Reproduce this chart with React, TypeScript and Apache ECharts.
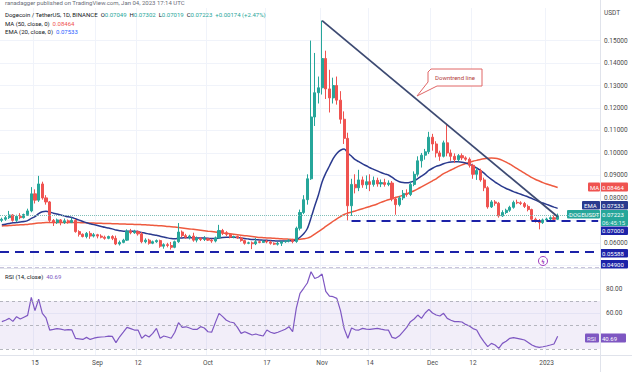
import { useEffect, useRef } from 'react';
import * as echarts from 'echarts';

const FONT = 'Roboto, "Noto Sans", sans-serif';

const firstDayUTC = Date.UTC(2022, 7, 6);
const dayCount = 163; // daily slots incl. empty future space on the right

// [open, high, low, close]
const dailyOHLC: number[][] = [
  [0.0700, 0.0712, 0.0692, 0.0705], [0.0705, 0.0720, 0.0698, 0.0712], [0.0712, 0.0742, 0.0706, 0.0724],
  [0.0724, 0.0728, 0.0694, 0.0700], [0.0700, 0.0725, 0.0693, 0.0718], [0.0718, 0.0732, 0.0705, 0.0712],
  [0.0712, 0.0730, 0.0708, 0.0726], [0.0726, 0.0752, 0.0720, 0.0742], [0.0742, 0.0848, 0.0736, 0.0818],
  [0.0818, 0.0838, 0.0775, 0.0790], [0.0790, 0.0898, 0.0782, 0.0862], [0.0862, 0.0872, 0.0792, 0.0800],
  [0.0800, 0.0812, 0.0770, 0.0782], [0.0782, 0.0786, 0.0688, 0.0700], [0.0700, 0.0706, 0.0675, 0.0690],
  [0.0690, 0.0708, 0.0684, 0.0702], [0.0702, 0.0706, 0.0678, 0.0690], [0.0690, 0.0708, 0.0684, 0.0698],
  [0.0698, 0.0704, 0.0685, 0.0690], [0.0690, 0.0712, 0.0688, 0.0700], [0.0700, 0.0706, 0.0645, 0.0650],
  [0.0650, 0.0656, 0.0628, 0.0638], [0.0638, 0.0642, 0.0624, 0.0628], [0.0628, 0.0648, 0.0620, 0.0642],
  [0.0642, 0.0652, 0.0618, 0.0630], [0.0630, 0.0644, 0.0624, 0.0636], [0.0636, 0.0640, 0.0620, 0.0630],
  [0.0630, 0.0638, 0.0620, 0.0625], [0.0625, 0.0632, 0.0614, 0.0620], [0.0620, 0.0632, 0.0616, 0.0628],
  [0.0628, 0.0634, 0.0612, 0.0620], [0.0620, 0.0632, 0.0590, 0.0595], [0.0595, 0.0610, 0.0588, 0.0602],
  [0.0602, 0.0618, 0.0598, 0.0612], [0.0612, 0.0660, 0.0608, 0.0652], [0.0652, 0.0662, 0.0638, 0.0645],
  [0.0645, 0.0658, 0.0640, 0.0650], [0.0650, 0.0655, 0.0632, 0.0640], [0.0640, 0.0648, 0.0598, 0.0605],
  [0.0605, 0.0620, 0.0598, 0.0612], [0.0612, 0.0618, 0.0592, 0.0598], [0.0598, 0.0610, 0.0594, 0.0605],
  [0.0605, 0.0615, 0.0600, 0.0610], [0.0610, 0.0614, 0.0578, 0.0585], [0.0585, 0.0598, 0.0574, 0.0592],
  [0.0592, 0.0600, 0.0580, 0.0588], [0.0588, 0.0604, 0.0570, 0.0580], [0.0580, 0.0610, 0.0576, 0.0605],
  [0.0605, 0.0688, 0.0600, 0.0648], [0.0648, 0.0655, 0.0625, 0.0632], [0.0632, 0.0640, 0.0618, 0.0625],
  [0.0625, 0.0636, 0.0615, 0.0630], [0.0630, 0.0645, 0.0605, 0.0612], [0.0612, 0.0628, 0.0602, 0.0620],
  [0.0620, 0.0625, 0.0608, 0.0615], [0.0615, 0.0630, 0.0608, 0.0618], [0.0618, 0.0622, 0.0608, 0.0612],
  [0.0612, 0.0618, 0.0600, 0.0608], [0.0608, 0.0628, 0.0602, 0.0622], [0.0622, 0.0680, 0.0620, 0.0655],
  [0.0655, 0.0662, 0.0635, 0.0645], [0.0645, 0.0652, 0.0630, 0.0638], [0.0638, 0.0642, 0.0620, 0.0625],
  [0.0625, 0.0632, 0.0620, 0.0628], [0.0628, 0.0632, 0.0618, 0.0622], [0.0622, 0.0628, 0.0605, 0.0610],
  [0.0610, 0.0614, 0.0592, 0.0598], [0.0598, 0.0605, 0.0594, 0.0600], [0.0600, 0.0606, 0.0572, 0.0596],
  [0.0596, 0.0622, 0.0590, 0.0605], [0.0605, 0.0610, 0.0598, 0.0602], [0.0602, 0.0612, 0.0600, 0.0608],
  [0.0608, 0.0614, 0.0598, 0.0604], [0.0604, 0.0610, 0.0592, 0.0598], [0.0598, 0.0602, 0.0590, 0.0594],
  [0.0594, 0.0604, 0.0588, 0.0598], [0.0598, 0.0610, 0.0586, 0.0605], [0.0605, 0.0612, 0.0600, 0.0608],
  [0.0608, 0.0616, 0.0602, 0.0612], [0.0612, 0.0618, 0.0598, 0.0606], [0.0606, 0.0672, 0.0600, 0.0665],
  [0.0665, 0.0748, 0.0655, 0.0735], [0.0735, 0.0812, 0.0728, 0.0792], [0.0792, 0.0905, 0.0770, 0.0885],
  [0.0885, 0.1500, 0.0880, 0.1160], [0.1160, 0.1445, 0.1120, 0.1268], [0.1268, 0.1340, 0.1220, 0.1290],
  [0.1290, 0.1589, 0.1260, 0.1420], [0.1420, 0.1455, 0.1240, 0.1285], [0.1285, 0.1370, 0.1180, 0.1245],
  [0.1245, 0.1335, 0.1220, 0.1300], [0.1300, 0.1340, 0.1215, 0.1235], [0.1235, 0.1275, 0.1130, 0.1150],
  [0.1150, 0.1185, 0.1040, 0.1065], [0.1065, 0.1090, 0.0700, 0.0765], [0.0765, 0.0885, 0.0720, 0.0860],
  [0.0860, 0.0905, 0.0820, 0.0845], [0.0845, 0.0925, 0.0830, 0.0880], [0.0880, 0.0895, 0.0845, 0.0858],
  [0.0858, 0.0900, 0.0840, 0.0872], [0.0872, 0.0905, 0.0830, 0.0860], [0.0860, 0.0895, 0.0850, 0.0878],
  [0.0878, 0.0890, 0.0850, 0.0862], [0.0862, 0.0882, 0.0848, 0.0868], [0.0868, 0.0885, 0.0850, 0.0860],
  [0.0860, 0.0878, 0.0852, 0.0866], [0.0866, 0.0875, 0.0785, 0.0795], [0.0795, 0.0805, 0.0725, 0.0770],
  [0.0770, 0.0808, 0.0762, 0.0800], [0.0800, 0.0835, 0.0790, 0.0820], [0.0820, 0.0838, 0.0805, 0.0815],
  [0.0815, 0.0872, 0.0808, 0.0860], [0.0860, 0.0918, 0.0852, 0.0905], [0.0905, 0.0985, 0.0895, 0.0965],
  [0.0965, 0.1000, 0.0935, 0.0990], [0.0990, 0.1018, 0.0970, 0.1005], [0.1005, 0.1094, 0.0995, 0.1070],
  [0.1070, 0.1085, 0.1010, 0.1040], [0.1040, 0.1052, 0.0980, 0.1000], [0.1000, 0.1010, 0.0965, 0.0985],
  [0.0985, 0.1055, 0.0980, 0.1045], [0.1045, 0.1125, 0.0985, 0.1000], [0.1000, 0.1015, 0.0965, 0.0985],
  [0.0985, 0.0998, 0.0955, 0.0970], [0.0970, 0.0995, 0.0962, 0.0988], [0.0988, 0.0998, 0.0968, 0.0978],
  [0.0978, 0.0985, 0.0965, 0.0972], [0.0972, 0.0980, 0.0935, 0.0945], [0.0945, 0.0952, 0.0885, 0.0905],
  [0.0905, 0.0935, 0.0880, 0.0922], [0.0922, 0.0930, 0.0872, 0.0880], [0.0880, 0.0890, 0.0830, 0.0845],
  [0.0845, 0.0852, 0.0752, 0.0760], [0.0760, 0.0790, 0.0755, 0.0782], [0.0782, 0.0790, 0.0765, 0.0776],
  [0.0776, 0.0782, 0.0712, 0.0720], [0.0720, 0.0745, 0.0715, 0.0735], [0.0735, 0.0752, 0.0728, 0.0745],
  [0.0745, 0.0765, 0.0738, 0.0758], [0.0758, 0.0788, 0.0752, 0.0780], [0.0780, 0.0792, 0.0772, 0.0778],
  [0.0778, 0.0785, 0.0768, 0.0775], [0.0775, 0.0782, 0.0755, 0.0762], [0.0762, 0.0770, 0.0740, 0.0748],
  [0.0748, 0.0752, 0.0698, 0.0705], [0.0705, 0.0712, 0.0690, 0.0698], [0.0698, 0.0706, 0.0660, 0.0690],
  [0.0690, 0.0708, 0.0684, 0.0702], [0.0702, 0.0712, 0.0695, 0.0706], [0.0706, 0.0718, 0.0698, 0.0712],
  [0.0712, 0.0722, 0.0698, 0.07049], [0.07049, 0.07302, 0.07019, 0.07223],
];

const ma50: number[] = [
  0.0675, 0.0676, 0.0677, 0.0678, 0.0679, 0.0680, 0.0681, 0.0682, 0.0684, 0.0686, 0.0688,
  0.0689, 0.0690, 0.0690, 0.0690, 0.0690, 0.0691, 0.0691, 0.0691, 0.0691, 0.0690,
  0.0690, 0.0689, 0.0689, 0.0688, 0.0688, 0.0687, 0.0687, 0.0686, 0.0686, 0.0685,
  0.0685, 0.0684, 0.0684, 0.0683, 0.0683, 0.0682, 0.0682, 0.0681, 0.0680, 0.0679,
  0.0678, 0.0677, 0.0676, 0.0675, 0.0673, 0.0672, 0.0670, 0.0668, 0.0666, 0.0664,
  0.0662, 0.0660, 0.0658, 0.0656, 0.0654, 0.0652, 0.0650, 0.0648, 0.0646, 0.0644,
  0.0642, 0.0640, 0.0638, 0.0636, 0.0634, 0.0632, 0.0630, 0.0628, 0.0626, 0.0624,
  0.0623, 0.0622, 0.0621, 0.0620, 0.0619, 0.0618, 0.0617, 0.0616, 0.0615, 0.0615,
  0.0616, 0.0618, 0.0621, 0.0628, 0.0639, 0.0650, 0.0661, 0.0673, 0.0684, 0.0696, 0.0707, 0.0717, 0.0726, 0.0733, 0.0737,
  0.0742, 0.0747, 0.0752, 0.0757, 0.0762, 0.0767, 0.0773, 0.0780, 0.0786, 0.0792, 0.0797, 0.0802, 0.0806, 0.0812, 0.0818,
  0.0825, 0.0832, 0.0840, 0.0849, 0.0858, 0.0867, 0.0876, 0.0885, 0.0897, 0.0908,
  0.0916, 0.0924, 0.0932, 0.0940, 0.0947, 0.0953, 0.0958, 0.0963, 0.0967, 0.0971,
  0.0974, 0.0976, 0.0977, 0.0976, 0.0973, 0.0967, 0.0959, 0.0950, 0.0940, 0.0930,
  0.0920, 0.0910, 0.0900, 0.0890, 0.0882, 0.0875, 0.0868, 0.0862, 0.0857, 0.0852, 0.08464,
];

const ema20: number[] = [
  0.0680, 0.0683, 0.0686, 0.0689, 0.0690, 0.0693, 0.0695, 0.0699, 0.0709, 0.0717, 0.0730,
  0.0738, 0.0741, 0.0737, 0.0732, 0.0728, 0.0724, 0.0720, 0.0716, 0.0713, 0.0707,
  0.0701, 0.0695, 0.0689, 0.0685, 0.0681, 0.0677, 0.0673, 0.0669, 0.0666, 0.0662,
  0.0657, 0.0654, 0.0652, 0.0652, 0.0651, 0.0651, 0.0650, 0.0646, 0.0643, 0.0639,
  0.0636, 0.0634, 0.0629, 0.0626, 0.0622, 0.0619, 0.0618, 0.0621, 0.0622, 0.0623,
  0.0623, 0.0622, 0.0622, 0.0621, 0.0621, 0.0620, 0.0619, 0.0619, 0.0622, 0.0624,
  0.0625, 0.0625, 0.0625, 0.0624, 0.0622, 0.0619, 0.0617, 0.0615, 0.0614, 0.0613,
  0.0612, 0.0611, 0.0610, 0.0609, 0.0608, 0.0608, 0.0608, 0.0609, 0.0609, 0.0614,
  0.0625, 0.0640, 0.0664, 0.0711, 0.0764, 0.0813, 0.0871, 0.0910, 0.0942, 0.0975,
  0.0998, 0.1012, 0.1018, 0.1000, 0.0985, 0.0970, 0.0961, 0.0951, 0.0943, 0.0934,
  0.0927, 0.0920, 0.0913, 0.0907, 0.0902, 0.0892, 0.0880, 0.0872, 0.0868, 0.0867,
  0.0870, 0.0876, 0.0886, 0.0897, 0.0908, 0.0922, 0.0932, 0.0940, 0.0945, 0.0952,
  0.0957, 0.0960, 0.0961, 0.0961, 0.0959, 0.0955, 0.0950, 0.0942, 0.0933, 0.0922,
  0.0910, 0.0895, 0.0882, 0.0870, 0.0860, 0.0850, 0.0842, 0.0835, 0.0828, 0.0822,
  0.0816, 0.0810, 0.0804, 0.0797, 0.0790, 0.0783, 0.0777, 0.0771, 0.0765, 0.0759, 0.07533,
];

const rsi14: number[] = [
  52.8, 54.0, 55.5, 53.0, 56.9, 55.0, 56.5, 58.0, 73.0, 62.0,
  71.5, 59.7, 56.0, 45.8, 46.3, 47.0, 46.5, 45.8, 46.2, 46.0,
  38.9, 38.5, 38.0, 39.7, 38.0, 39.0, 39.7, 40.0, 40.2, 40.8,
  40.5, 35.3, 40.2, 44.0, 48.0, 47.0, 45.8, 45.8, 38.9, 41.7,
  40.0, 43.0, 47.2, 39.0, 40.8, 40.0, 39.0, 44.0, 52.0, 48.0,
  48.5, 47.5, 46.3, 46.3, 48.6, 47.5, 44.4, 44.0, 52.0, 59.7,
  57.0, 54.0, 52.5, 51.9, 48.0, 43.0, 44.4, 43.0, 41.7, 42.5,
  41.5, 40.8, 45.8, 44.0, 43.0, 44.0, 45.2, 46.5, 48.6, 44.4,
  64.0, 76.4, 80.6, 85.0, 94.4, 88.8, 90.0, 92.5, 78.0, 74.0,
  73.6, 72.2, 62.0, 47.0, 38.9, 47.5, 46.0, 45.8, 47.2, 46.5,
  46.3, 46.8, 47.2, 46.5, 46.0, 45.8, 39.7, 38.9, 41.0, 44.4,
  48.0, 52.8, 55.0, 58.3, 55.5, 60.0, 63.0, 60.0, 58.3, 57.5,
  59.7, 55.5, 54.0, 52.8, 52.8, 52.5, 50.5, 49.2, 47.0, 45.8,
  40.3, 36.0, 32.0, 34.7, 33.3, 30.5, 34.7, 36.5, 38.9, 39.5,
  38.9, 38.2, 37.5, 35.5, 33.3, 32.0, 31.4, 31.9, 32.5, 33.3,
  34.2, 40.69,
];

const tickDates = ['2022-08-15', '2022-09-01', '2022-09-12', '2022-10-01', '2022-10-17', '2022-11-01', '2022-11-14', '2022-12-01', '2022-12-12', '2023-01-01'];
const tickTexts = ['15', 'Sep', '12', 'Oct', '17', 'Nov', '14', 'Dec', '12', '2023'];
const priceGridValues = [0.05, 0.06, 0.07, 0.08, 0.09, 0.1, 0.11, 0.12, 0.13, 0.14, 0.15];
const priceLabelValues = [0.06, 0.08, 0.09, 0.1, 0.11, 0.12, 0.13, 0.14, 0.15];
const rsiLabelValues = [60, 80];
const rsiBandLines = [70, 50, 30];
const supportLevel = 0.07;
const supportStart = '2022-11-09';
const lowerLevels = [0.05588, 0.049];
const trendStart: [string, number] = ['2022-11-01', 0.1589];
const trendEnd: [string, number] = ['2023-01-04', 0.0716];
const countdown = '06:45:15';

const UP = '#26a69a';
const DOWN = '#ef5350';
const NAVY = '#2a3a8e';
const LINE_BLUE = '#1c22a8';
const PURPLE = '#7e57c2';

function labelBox(x: number, y: number, w: number, h: number, fill: string, text: string) {
  return {
    type: 'group',
    children: [
      { type: 'rect', shape: { x, y, width: w, height: h, r: 1 }, style: { fill } },
      { type: 'text', x: x + 2, y: y + h / 2, style: { text, fill: '#ffffff', font: `6px ${FONT}`, verticalAlign: 'middle' } },
    ],
  };
}

export default function App() {
  const ref = useRef<HTMLDivElement>(null);
  useEffect(() => {
    if (!ref.current) return;
    const chart = echarts.init(ref.current, undefined, { renderer: 'svg' });

    const dates = Array.from({ length: dayCount }, (_, i) =>
      new Date(firstDayUTC + i * 86400000).toISOString().slice(0, 10)
    );
    const candleData = dailyOHLC.map(([o, h, l, c]) => [o, c, l, h]);
    const last = dailyOHLC[dailyOHLC.length - 1];
    const prevClose = dailyOHLC[dailyOHLC.length - 2][3];
    const chg = last[3] - prevClose;
    const pct = (chg / prevClose) * 100;
    const maLast = ma50[ma50.length - 1];
    const emaLast = ema20[ema20.length - 1];
    const rsiLast = rsi14[rsi14.length - 1];
    const isTick = (_i: number, v: string) => tickDates.includes(v);

    const axisText = { color: '#4a4a4a', fontSize: 6.5, fontFamily: FONT };
    const vSplit = { show: true, interval: isTick, lineStyle: { color: '#f0f3fa', width: 1 } };

    const option: any = {
      animation: false,
      backgroundColor: '#ffffff',
      textStyle: { fontFamily: FONT },
      grid: [
        { left: 0, right: 32, top: 8, height: 260 },
        { left: 0, right: 32, top: 268, height: 87 },
      ],
      xAxis: [
        {
          type: 'category', gridIndex: 0, data: dates, boundaryGap: true,
          axisLine: { show: false }, axisTick: { show: false, interval: isTick },
          axisLabel: { show: false, interval: isTick }, splitLine: vSplit,
        },
        {
          type: 'category', gridIndex: 1, data: dates, boundaryGap: true,
          axisLine: { show: false }, axisTick: { show: false, interval: isTick },
          axisLabel: {
            show: true, interval: isTick, margin: 4, ...axisText,
            formatter: (v: string) => tickTexts[tickDates.indexOf(v)] ?? '',
          },
          splitLine: vSplit,
        },
      ],
      yAxis: [
        {
          type: 'value', gridIndex: 0, position: 'right', min: 0.0488, max: 0.1645, scale: true,
          axisLine: { show: false }, axisTick: { show: false, customValues: priceGridValues },
          axisLabel: { customValues: priceLabelValues, margin: 4, ...axisText, formatter: (v: number) => v.toFixed(5) },
          splitLine: { show: true, lineStyle: { color: '#f0f3fa', width: 1 } },
        },
        {
          type: 'value', gridIndex: 1, position: 'right', min: 25, max: 97.5,
          axisLine: { show: false }, axisTick: { show: false, customValues: rsiLabelValues },
          axisLabel: { customValues: rsiLabelValues, margin: 6, ...axisText, formatter: (v: number) => v.toFixed(2) },
          splitLine: { show: true, lineStyle: { color: '#f0f3fa', width: 1 } },
        },
      ],
      series: [
        {
          type: 'candlestick', xAxisIndex: 0, yAxisIndex: 0, data: candleData, barWidth: '70%',
          itemStyle: { color: UP, color0: DOWN, borderColor: UP, borderColor0: DOWN, borderWidth: 1 },
          markLine: {
            silent: true, symbol: ['none', 'none'], label: { show: false }, animation: false, precision: 6,
            data: [
              { yAxis: last[3], lineStyle: { type: 'dotted', color: '#7fbfb7', width: 1 } },
              [
                { coord: [supportStart, supportLevel], lineStyle: { type: [9, 6], color: LINE_BLUE, width: 2.2 } },
                { coord: [dates[dayCount - 1], supportLevel] },
              ],
              { yAxis: lowerLevels[0], lineStyle: { type: [9, 6], color: LINE_BLUE, width: 2.2 } },
              { yAxis: lowerLevels[1] + 0.0001, lineStyle: { type: [4, 3], color: '#c9c4dc', width: 1 } },
              [
                { coord: trendStart, lineStyle: { type: 'solid', color: '#3d4a72', width: 1.8 } },
                { coord: trendEnd },
              ],
            ],
          },
          z: 3,
        },
        {
          type: 'line', name: 'MA', xAxisIndex: 0, yAxisIndex: 0, data: ma50, showSymbol: false,
          smooth: 0.3, lineStyle: { color: '#ee5a3f', width: 1.5 }, z: 2,
        },
        {
          type: 'line', name: 'EMA', xAxisIndex: 0, yAxisIndex: 0, data: ema20, showSymbol: false,
          smooth: 0.3, lineStyle: { color: NAVY, width: 1.5 }, z: 2,
        },
        {
          type: 'line', name: 'RSI', xAxisIndex: 1, yAxisIndex: 1, data: rsi14, showSymbol: false,
          lineStyle: { color: PURPLE, width: 1.2 },
          markArea: {
            silent: true,
            itemStyle: { color: 'rgba(126,87,194,0.10)' },
            data: [[{ yAxis: rsiBandLines[0] }, { yAxis: rsiBandLines[2] }]],
          },
          markLine: {
            silent: true, symbol: ['none', 'none'], label: { show: false }, precision: 4,
            lineStyle: { type: [3, 3], color: '#a3a6af', width: 0.8 },
            data: rsiBandLines.map((v) => ({ yAxis: v })),
          },
        },
      ],
      graphic: [
        // pane separators
        { type: 'line', shape: { x1: 600.5, y1: 0, x2: 600.5, y2: 372 }, style: { stroke: '#e0e3eb', lineWidth: 1 }, z: 1 },
        { type: 'line', shape: { x1: 0, y1: 268.5, x2: 600, y2: 268.5 }, style: { stroke: '#e0e3eb', lineWidth: 1 }, z: 1 },
        { type: 'line', shape: { x1: 0, y1: 355.5, x2: 632, y2: 355.5 }, style: { stroke: '#e0e3eb', lineWidth: 1 }, z: 1 },
        // header
        { type: 'text', x: 5, y: 2.5, style: { text: 'ranadagger published on TradingView.com, Jan 04, 2023 17:14 UTC', fill: '#6a6d78', font: `6px ${FONT}`, verticalAlign: 'middle' }, z: 10 },
        {
          type: 'text', x: 5, y: 14.5, z: 10,
          style: {
            text: `{n|Dogecoin / TetherUS, 1D, BINANCE}  {n|O}{g|${last[0].toFixed(5)}}  {n|H}{g|${last[1].toFixed(5)}}  {n|L}{g|${last[2].toFixed(5)}}  {n|C}{g|${last[3].toFixed(5)}}  {g|+${chg.toFixed(5)} (+${pct.toFixed(2)}%)}`,
            font: `6px ${FONT}`, verticalAlign: 'middle',
            rich: { n: { fill: '#131722', fontSize: 6, fontFamily: FONT }, g: { fill: UP, fontSize: 6, fontFamily: FONT } },
          },
        },
        {
          type: 'text', x: 5, y: 23, z: 10,
          style: {
            text: `{n|MA (50, close, 0)}  {r|${maLast.toFixed(5)}}`, font: `6px ${FONT}`, verticalAlign: 'middle',
            rich: { n: { fill: '#131722', fontSize: 6, fontFamily: FONT }, r: { fill: DOWN, fontSize: 6, fontFamily: FONT } },
          },
        },
        {
          type: 'text', x: 5, y: 31, z: 10,
          style: {
            text: `{n|EMA (20, close, 0)}  {b|${emaLast.toFixed(5)}}`, font: `6px ${FONT}`, verticalAlign: 'middle',
            rich: { n: { fill: '#131722', fontSize: 6, fontFamily: FONT }, b: { fill: '#2962ff', fontSize: 6, fontFamily: FONT } },
          },
        },
        { type: 'text', x: 604, y: 13, style: { text: 'USDT', fill: '#4a4a4a', font: `6.5px ${FONT}`, verticalAlign: 'middle' }, z: 10 },
        {
          type: 'text', x: 5, y: 276, z: 10,
          style: {
            text: `{n|RSI (14, close)}  {p|${rsiLast.toFixed(2)}}`, font: `6px ${FONT}`, verticalAlign: 'middle',
            rich: { n: { fill: '#131722', fontSize: 6, fontFamily: FONT }, p: { fill: PURPLE, fontSize: 6, fontFamily: FONT } },
          },
        },
        // callout
        {
          type: 'polygon', z: 10,
          shape: { points: [[431, 69], [482, 69], [482, 86], [437, 86], [417, 96], [428, 82], [428, 72]] },
          style: { fill: '#ffffff', stroke: '#e06666', lineWidth: 1 },
        },
        { type: 'text', x: 455, y: 77.5, z: 11, style: { text: 'Downtrend line', fill: '#b23a3a', font: `6px ${FONT}`, align: 'center', verticalAlign: 'middle' } },
        // event icon
        { type: 'circle', z: 10, shape: { cx: 543, cy: 261, r: 4.5 }, style: { fill: '#ffffff', stroke: '#a040c0', lineWidth: 1 } },
        { type: 'text', z: 11, x: 543, y: 261, style: { text: 'ϟ', fill: '#a040c0', font: `bold 6px "DejaVu Sans"`, align: 'center', verticalAlign: 'middle' } },
        // price scale tags
        { ...labelBox(588, 182.5, 12, 9, DOWN, 'MA'), z: 12 },
        { ...labelBox(600, 182.5, 28, 9, DOWN, maLast.toFixed(5)), z: 12 },
        { ...labelBox(582, 201, 18, 8.5, NAVY, 'EMA'), z: 12 },
        { ...labelBox(600, 201, 28, 8.5, NAVY, emaLast.toFixed(5)), z: 12 },
        { ...labelBox(567, 210, 33, 8.5, UP, 'DOGEUSDT'), z: 12 },
        {
          type: 'group', z: 12,
          children: [
            { type: 'rect', shape: { x: 600, y: 210, width: 28, height: 16, r: 1 }, style: { fill: UP } },
            { type: 'text', x: 602, y: 214.2, style: { text: last[3].toFixed(5), fill: '#ffffff', font: `6px ${FONT}`, verticalAlign: 'middle' } },
            { type: 'text', x: 602, y: 222, style: { text: countdown, fill: '#dff3f0', font: `6px ${FONT}`, verticalAlign: 'middle' } },
          ],
        },
        { ...labelBox(600, 226.5, 28, 8.5, LINE_BLUE, supportLevel.toFixed(5)), z: 12 },
        { ...labelBox(600, 249, 28, 8.5, LINE_BLUE, lowerLevels[0].toFixed(5)), z: 12 },
        { ...labelBox(600, 260, 28, 8.5, LINE_BLUE, lowerLevels[1].toFixed(5)), z: 12 },
        { ...labelBox(585, 333.5, 14, 9, PURPLE, 'RSI'), z: 12 },
        { ...labelBox(600, 333.5, 26, 9, PURPLE, rsiLast.toFixed(2)), z: 12 },
      ],
    };

    chart.setOption(option);
    return () => chart.dispose();
  }, []);

  return <div ref={ref} style={{ position: 'absolute', left: 0, top: 0, width: 632, height: 372 }} />;
}
